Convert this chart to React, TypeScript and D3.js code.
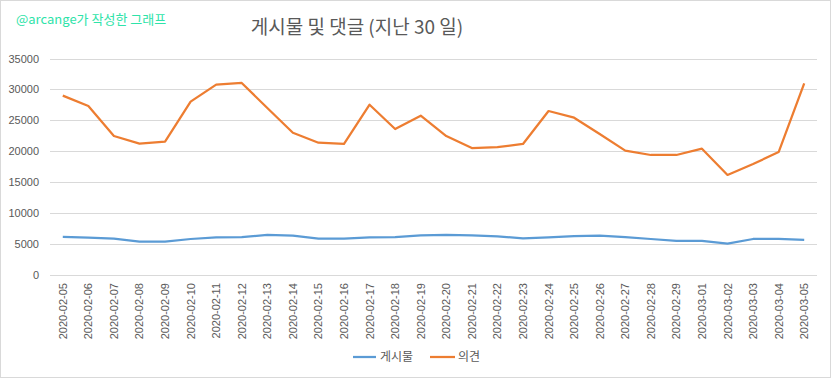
import React from "react";
import * as d3 from "d3";

const dates = [
  "2020-02-05","2020-02-06","2020-02-07","2020-02-08","2020-02-09","2020-02-10","2020-02-11","2020-02-12","2020-02-13","2020-02-14","2020-02-15",
  "2020-02-16","2020-02-17","2020-02-18","2020-02-19","2020-02-20","2020-02-21","2020-02-22","2020-02-23","2020-02-24","2020-02-25",
  "2020-02-26","2020-02-27","2020-02-28","2020-02-29","2020-03-01","2020-03-02","2020-03-03","2020-03-04","2020-03-05",
];
// Note: 30 labels per the picture? count check below
const posts = [6150, 6030, 5870, 5390, 5390, 5820, 6090, 6140, 6470, 6360, 5870,
  5870, 6090, 6140, 6410, 6470, 6410, 6250, 5930, 6090, 6300,
  6350, 6140, 5820, 5500, 5500, 5060, 5820, 5820, 5660];
const comments = [29000, 27320, 22470, 21230, 21550, 28020, 30770, 31040, 27000, 23000, 21390,
  21180, 27530, 23600, 25750, 22470, 20530, 20690, 21180, 26510, 25430,
  22800, 20100, 19400, 19400, 20420, 16170, 17940, 19880, 30990];
const yTicks = [0, 5000, 10000, 15000, 20000, 25000, 30000, 35000];

const W = 832, H = 378;
const left = 50, right = 817, top = 58.5, bottom = 275;

export default function App() {
  const x = d3.scaleBand<string>().domain(dates).range([left, right]);
  const y = d3.scaleLinear().domain([0, 35000]).range([bottom, top]);
  const cx = (d: string) => (x(d) as number) + x.bandwidth() / 2;
  const line = d3.line<number>().x((_, i) => cx(dates[i])).y((v) => y(v));
  const kr = "'Noto Sans CJK KR', 'Noto Sans', sans-serif";
  const num = "'Liberation Sans', 'Noto Sans', sans-serif";
  return (
    <svg width={W} height={H} style={{ position: "absolute", left: 0, top: 0, background: "#fff" }}>
      <rect x={0.5} y={0.5} width={W - 2} height={H - 1} fill="#fff" stroke="#d9d9d9" />
      <text x={16} y={24} fontFamily={kr} fontSize={13} fill="#2ee3a9">@arcange가 작성한 그래프</text>
      <text x={357} y={34} textAnchor="middle" fontFamily={kr} fontSize={19} fill="#595959">게시물 및 댓글 (지난 30 일)</text>
      {yTicks.map((t) => (
        <g key={t}>
          <line x1={left} x2={right} y1={Math.round(y(t)) + 0.5} y2={Math.round(y(t)) + 0.5} stroke="#d9d9d9" />
          <text x={39} y={y(t) + 4} textAnchor="end" fontFamily={num} fontSize={11} fill="#595959">{t}</text>
        </g>
      ))}
      {dates.map((d) => (
        <text key={d} transform={`translate(${cx(d) + 4},283) rotate(-90)`} textAnchor="end" fontFamily={num} fontSize={11} fill="#595959">{d}</text>
      ))}
      <path d={line(posts) as string} fill="none" stroke="#5b9bd5" strokeWidth={2.25} strokeLinejoin="round" />
      <path d={line(comments) as string} fill="none" stroke="#ed7d31" strokeWidth={2.25} strokeLinejoin="round" />
      <line x1={353} x2={376} y1={357} y2={357} stroke="#5b9bd5" strokeWidth={2.25} />
      <text x={380} y={361} fontFamily={kr} fontSize={12} fill="#595959">게시물</text>
      <line x1={430} x2={455} y1={357} y2={357} stroke="#ed7d31" strokeWidth={2.25} />
      <text x={458} y={361} fontFamily={kr} fontSize={12} fill="#595959">의견</text>
    </svg>
  );
}
